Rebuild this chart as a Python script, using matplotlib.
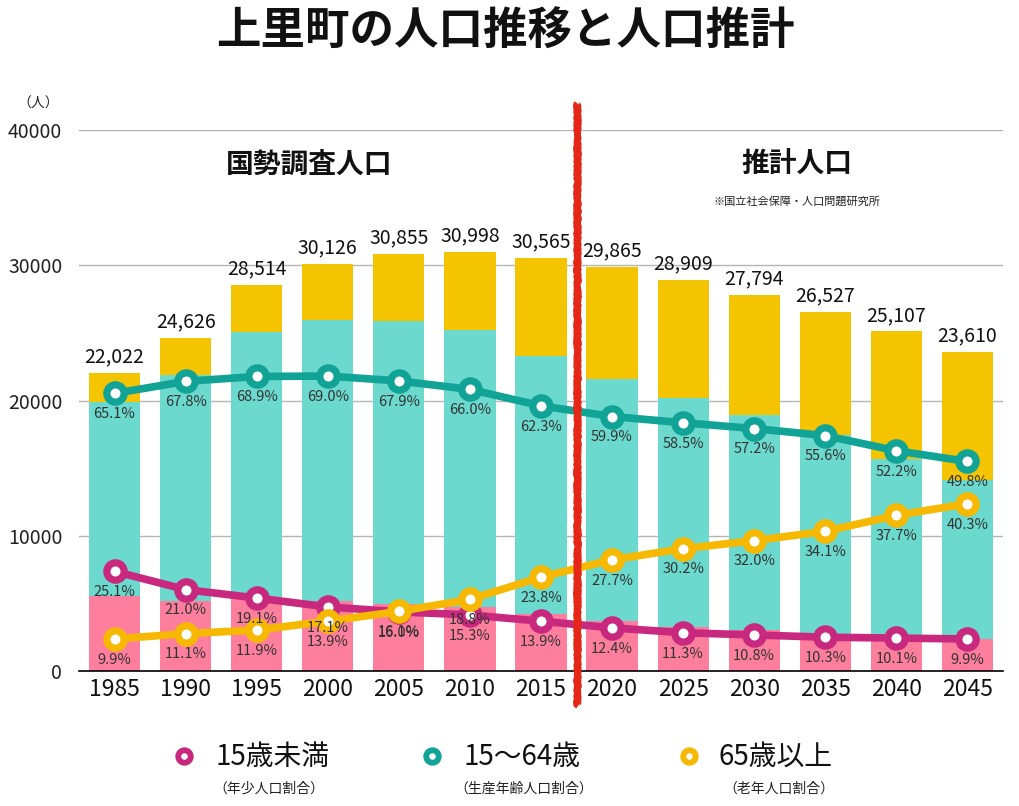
import matplotlib
matplotlib.use('Agg')
import matplotlib.pyplot as plt
from matplotlib.lines import Line2D
import numpy as np

plt.rcParams['font.family'] = ['Noto Sans CJK JP', 'DejaVu Sans']

# data
years = ['1985', '1990', '1995', '2000', '2005', '2010', '2015',
         '2020', '2025', '2030', '2035', '2040', '2045']
totals = [22022, 24626, 28514, 30126, 30855, 30998, 30565,
          29865, 28909, 27794, 26527, 25107, 23610]
young_pct = [25.1, 21.0, 19.1, 17.1, 16.0, 15.3, 13.9, 12.4, 11.3, 10.8, 10.3, 10.1, 9.9]
work_pct = [65.1, 67.8, 68.9, 69.0, 67.9, 66.0, 62.3, 59.9, 58.5, 57.2, 55.6, 52.2, 49.8]
old_pct = [9.9, 11.1, 11.9, 13.9, 16.1, 18.8, 23.8, 27.7, 30.2, 32.0, 34.1, 37.7, 40.3]

series_names = ['15歳未満', '15〜64歳', '65歳以上']
series_sub = ['（年少人口割合）', '（生産年齢人口割合）', '（老年人口割合）']

# colours
bar_cols = ['#fe7f9d', '#6bd9cd', '#f5c400']
line_cols = ['#c8297f', '#12a397', '#f6b800']
text_col = '#333333'

W, H = 1019, 806
fig = plt.figure(figsize=(W / 100, H / 100), dpi=100)
ax = fig.add_axes([79 / W, 1 - 671 / H, (1003 - 79) / W, (671 - 130) / H])

x = np.arange(len(years))
tot = np.array(totals, dtype=float)
young = np.array(young_pct) / 100 * tot
work = np.array(work_pct) / 100 * tot
old = tot - young - work

bw = 0.72
ax.bar(x, young, bw, color=bar_cols[0], zorder=2)
ax.bar(x, work, bw, bottom=young, color=bar_cols[1], zorder=2)
ax.bar(x, old, bw, bottom=young + work, color=bar_cols[2], zorder=2)

for xi, t in zip(x, totals):
    ax.annotate(f'{t:,}', (xi, t), xytext=(0, 4), textcoords='offset points',
                ha='center', va='bottom', fontsize=14, color='#111111')

ax.set_xlim(-0.5, len(years) - 0.5)
ax.set_ylim(0, 40000)
ax.set_yticks([0, 10000, 20000, 30000, 40000])
ax.set_yticklabels(['0', '10000', '20000', '30000', '40000'], fontsize=14, color='#222222')
ax.set_xticks(x)
ax.set_xticklabels(years, fontsize=16.5, color='#111111')
ax.tick_params(length=0)
ax.tick_params(axis='y', pad=12)
ax.tick_params(axis='x', pad=5)
for s in ['top', 'right', 'left']:
    ax.spines[s].set_visible(False)
ax.spines['bottom'].set_color('black')
ax.spines['bottom'].set_linewidth(1.2)
ax.spines['bottom'].set_zorder(4)
ax.yaxis.grid(True, color='#b5b5b5', linewidth=1)
ax.set_axisbelow(True)

# ratio lines on their own scale
ax2 = ax.twinx()
ax2.set_ylim(2.7, 124.3)
ax2.axis('off')
for pcts, lc in zip([young_pct, work_pct, old_pct], line_cols):
    ax2.plot(x, pcts, color=lc, lw=5.5, marker='o', ms=12.5, mew=5.2,
             mfc='white', mec=lc, zorder=3, solid_capstyle='round')
    for xi, p in zip(x, pcts):
        ax2.annotate(f'{p:.1f}%', (xi, p), xytext=(0, -15), textcoords='offset points',
                     ha='center', va='center', fontsize=10.5, color=text_col, zorder=5)

# red divider between census and projection
red = ax2.plot([6.5, 6.5], [1.05, -0.063], color='#e42717', lw=5,
               transform=ax2.get_xaxis_transform(), clip_on=False, zorder=6,
               solid_capstyle='butt')[0]
red.set_sketch_params(scale=0.8, length=2, randomness=2)

fig.text(505 / W, 1 - 32 / H, '上里町の人口推移と人口推計', ha='center', va='center',
         fontsize=32, fontweight='bold', color='#111111')
fig.text(38 / W, 1 - 104 / H, '（人）', ha='center', va='center', fontsize=10, color='#222222')
fig.text(309 / W, 1 - 165 / H, '国勢調査人口', ha='center', va='center',
         fontsize=20, fontweight='bold', color='#111111')
fig.text(797 / W, 1 - 165 / H, '推計人口', ha='center', va='center',
         fontsize=20, fontweight='bold', color='#111111')
fig.text(797 / W, 1 - 201 / H, '※国立社会保障・人口問題研究所', ha='center', va='center',
         fontsize=8, color='#222222')

# legend
mark_x = [184, 432, 689]
text_x = [216, 463, 719]
sub_x = [269, 524, 779]
for i in range(3):
    fig.add_artist(Line2D([mark_x[i] / W], [1 - 756 / H], transform=fig.transFigure,
                          marker='o', ms=9, mew=4.2, mfc='white', mec=line_cols[i], lw=0))
    fig.text(text_x[i] / W, 1 - 757 / H, series_names[i], ha='left', va='center',
             fontsize=20, color='#111111')
    fig.text(sub_x[i] / W, 1 - 789 / H, series_sub[i], ha='center', va='center',
             fontsize=10, color='#222222')

fig.savefig('out.png', dpi=100)
